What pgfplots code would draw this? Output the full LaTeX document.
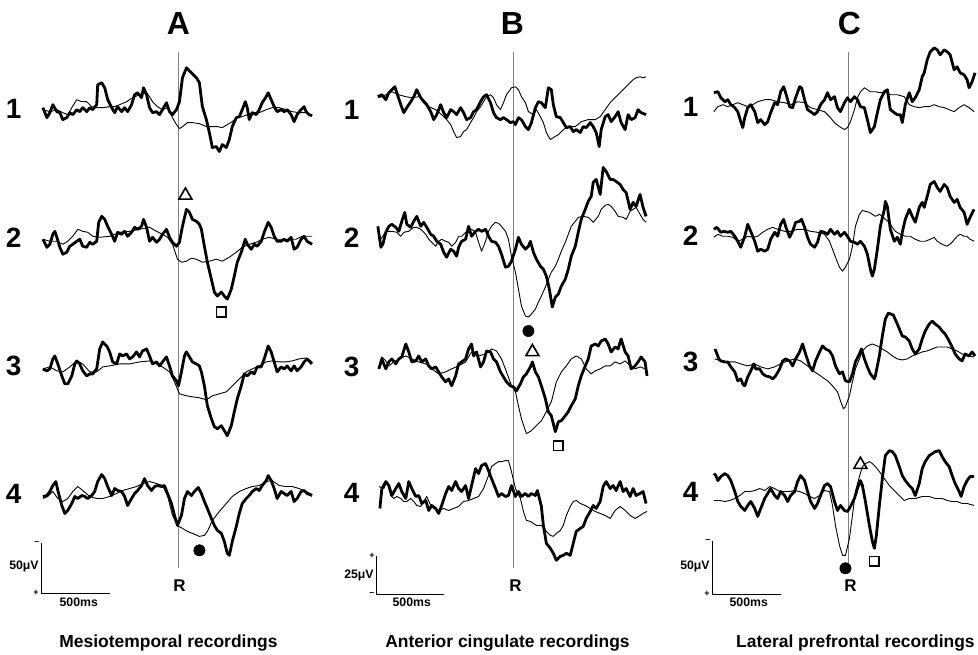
\documentclass[border=0pt]{standalone}
\usepackage{pgfplots}
\pgfplotsset{compat=1.18}
\usepackage{fontspec}
\setmainfont{Liberation Sans}
\tikzset{
  rowlab/.style={anchor=east, font=\fontsize{28}{28}\selectfont\bfseries},
  smlab/.style={font=\fontsize{12.3}{12.3}\selectfont\bfseries},
  sign/.style={font=\fontsize{9}{9}\selectfont\bfseries},
  ptitle/.style={font=\fontsize{32}{32}\selectfont\bfseries},
  rlab/.style={font=\fontsize{17}{17}\selectfont\bfseries},
  blab/.style={font=\fontsize{17.5}{17.5}\selectfont\bfseries},
}
\begin{document}
\begin{tikzpicture}
\begin{axis}[
  x=1pt, y=1pt, y dir=reverse,
  xmin=0, xmax=978, ymin=0, ymax=656,
  hide axis, clip=false, scale only axis,
  tk/.style={black, line width=2.8pt, line join=round, mark=none},
  tn/.style={black, line width=0.9pt, line join=round, mark=none},
  rl/.style={gray, line width=0.9pt, mark=none},
  sb/.style={black, line width=1.1pt, mark=none},
]
\addplot[draw=none] coordinates {(0,0) (978,656)};
% R lines
\addplot[rl] coordinates {(179,52) (179,570)};
\addplot[rl] coordinates {(515,52) (515,570)};
\addplot[rl] coordinates {(851,52) (851,565)};

% ---------- panel A ----------
% A1
\addplot[tn] coordinates {(43,110) (50,112) (57,110) (63,113) (68,115) (72,108) (77,100) (82,102) (87,102) (92,107) (97,108) (103,108) (110,107) (115,107) (120,105) (127,102) (133,98) (140,95) (147,93) (150,97) (153,102) (158,107) (163,110) (168,108) (173,118) (177,125) (180,129) (183,127) (188,123) (193,123) (200,124) (207,127) (213,127) (218,127) (223,128) (228,125) (233,122) (238,118) (243,117) (248,115) (253,113) (260,113) (267,110) (273,108) (280,108) (287,110) (293,112) (300,113) (307,113) (313,116)};
\addplot[tk] coordinates {(43,108) (47,118) (50,113) (53,105) (57,112) (60,113) (63,120) (67,118) (70,113) (73,115) (77,110) (80,112) (83,108) (87,112) (90,108) (93,110) (97,105) (98,85) (102,83) (105,88) (108,100) (112,108) (115,113) (118,107) (122,112) (125,108) (128,112) (132,105) (135,95) (138,93) (142,98) (144,88) (147,95) (150,108) (153,113) (157,112) (160,115) (163,110) (167,103) (170,112) (173,115) (177,110) (180,102) (183,78) (187,68) (192,73) (197,78) (200,83) (203,107) (207,120) (210,133) (213,148) (217,147) (220,152) (223,145) (227,148) (230,140) (233,127) (237,118) (240,117) (243,110) (246,102) (248,108) (250,120) (253,113) (257,115) (260,110) (263,103) (267,97) (269,93) (272,100) (275,107) (278,112) (282,110) (285,112) (288,110) (292,115) (295,122) (298,115) (302,110) (305,107) (307,112) (310,115) (313,116)};
% A2
\addplot[tn] coordinates {(43,240) (50,242) (57,242) (63,245) (68,242) (73,237) (78,230) (83,232) (88,233) (93,237) (100,238) (110,237) (120,233) (130,232) (140,230) (150,228) (157,232) (163,235) (168,238) (173,245) (178,260) (182,263) (187,262) (192,259) (197,260) (203,263) (210,262) (217,260) (223,262) (230,258) (237,253) (243,248) (250,245) (257,243) (263,240) (270,238) (277,240) (283,240) (290,240) (297,240) (303,237) (313,237)};
\addplot[tk] coordinates {(43,240) (47,248) (50,245) (53,235) (55,232) (57,238) (60,248) (63,255) (67,253) (70,247) (73,245) (77,242) (80,240) (83,247) (87,248) (90,243) (93,245) (97,242) (99,223) (102,217) (105,220) (108,227) (112,235) (115,242) (118,233) (122,235) (125,232) (128,237) (132,233) (135,228) (138,230) (142,227) (144,220) (147,228) (150,242) (153,238) (157,243) (160,240) (163,235) (167,230) (170,238) (173,243) (177,247) (180,243) (183,227) (187,210) (190,213) (193,220) (197,222) (200,225) (202,230) (205,247) (208,263) (212,280) (215,293) (218,297) (222,293) (225,297) (228,300) (232,290) (235,277) (238,263) (242,253) (246,240) (248,245) (252,250) (255,245) (258,247) (262,242) (265,233) (269,223) (272,228) (275,237) (278,242) (282,242) (285,240) (288,242) (292,238) (295,250) (298,248) (302,240) (305,237) (308,242) (313,245)};
% A3
\addplot[tn] coordinates {(43,370) (50,368) (57,372) (63,373) (70,368) (77,362) (83,365) (90,373) (97,373) (103,368) (110,367) (120,365) (130,365) (140,363) (150,362) (157,365) (163,368) (170,373) (175,383) (180,395) (187,397) (193,398) (200,399) (207,401) (213,397) (220,395) (227,393) (233,387) (240,380) (247,373) (253,370) (260,367) (267,363) (273,362) (280,363) (287,363) (293,362) (300,360) (307,359) (313,363)};
\addplot[tk] coordinates {(43,370) (47,372) (50,370) (53,360) (55,357) (58,365) (62,377) (65,385) (68,385) (72,377) (75,365) (77,362) (80,365) (83,372) (87,377) (90,375) (93,375) (97,370) (100,350) (103,343) (107,347) (110,353) (113,363) (117,365) (120,355) (123,357) (127,355) (130,360) (133,358) (137,353) (140,358) (143,352) (147,350) (150,357) (153,365) (157,363) (160,367) (163,363) (167,358) (170,367) (173,377) (177,382) (179,387) (182,373) (185,357) (187,353) (190,358) (193,363) (197,365) (200,367) (202,373) (205,387) (208,407) (212,420) (215,428) (218,430) (222,427) (225,432) (228,437) (232,427) (235,413) (238,400) (242,387) (245,375) (248,377) (252,373) (255,375) (258,368) (262,368) (265,360) (269,347) (272,353) (275,363) (278,373) (282,368) (285,370) (288,367) (292,372) (295,367) (298,372) (302,368) (305,363) (308,360) (313,365)};
% A4
\addplot[tn] coordinates {(43,500) (48,498) (53,493) (58,500) (63,503) (68,500) (73,493) (78,488) (83,492) (90,498) (97,500) (103,500) (110,498) (117,495) (123,492) (130,490) (137,488) (143,485) (150,483) (157,485) (163,487) (168,497) (173,517) (178,527) (183,530) (188,533) (193,535) (200,538) (205,537) (208,533) (213,522) (220,513) (227,505) (233,498) (240,493) (247,490) (253,488) (260,487) (267,483) (273,482) (280,487) (287,488) (293,488) (300,490) (307,493) (313,496)};
\addplot[tk] coordinates {(43,498) (47,497) (50,493) (53,487) (56,483) (58,492) (62,507) (65,515) (68,512) (72,505) (75,498) (78,500) (82,497) (85,498) (88,500) (92,497) (95,493) (98,483) (102,476) (105,480) (108,488) (112,497) (115,490) (118,492) (122,493) (125,498) (128,507) (132,500) (135,495) (138,492) (142,487) (145,480) (148,487) (152,492) (155,488) (158,487) (162,488) (165,487) (168,495) (172,505) (175,517) (178,527) (182,517) (185,500) (188,493) (192,497) (195,493) (199,489) (202,495) (205,503) (208,510) (212,520) (215,527) (218,532) (222,535) (225,543) (228,555) (230,557) (233,543) (237,528) (240,515) (243,505) (247,500) (250,497) (253,493) (257,490) (260,492) (263,487) (267,482) (269,477) (272,482) (275,490) (278,500) (282,493) (285,495) (288,497) (292,493) (295,503) (298,500) (302,493) (305,492) (308,495) (313,497)};

% ---------- panel B ----------
% B1
\addplot[tn] coordinates {(379,98) (383,97) (387,95) (393,92) (400,95) (407,97) (413,98) (420,97) (425,100) (430,107) (437,110) (443,115) (448,120) (452,125) (455,132) (458,138) (462,137) (465,132) (468,130) (472,123) (475,118) (478,112) (482,107) (485,102) (488,97) (492,95) (495,98) (498,105) (502,110) (505,103) (508,95) (513,88) (517,87) (520,90) (523,97) (527,103) (530,112) (535,115) (538,110) (542,117) (545,123) (548,133) (552,140) (555,138) (560,135) (565,130) (570,127) (577,127) (583,122) (590,120) (597,120) (602,117) (607,110) (612,103) (617,98) (622,93) (627,88) (632,83) (635,80) (638,78) (642,77) (645,78) (648,77)};
\addplot[tk] coordinates {(379,97) (383,95) (387,100) (390,93) (393,90) (396,87) (398,93) (402,105) (405,113) (408,108) (412,102) (415,97) (418,90) (422,98) (425,102) (428,105) (432,112) (435,120) (438,115) (442,105) (445,113) (448,118) (452,110) (455,112) (458,115) (462,108) (465,113) (468,120) (472,118) (475,112) (478,110) (482,102) (485,97) (488,95) (492,103) (495,113) (498,118) (502,120) (505,118) (508,120) (512,123) (515,122) (517,125) (520,118) (523,120) (527,127) (530,130) (533,123) (537,108) (540,102) (543,103) (547,108) (550,88) (553,90) (555,105) (558,117) (562,118) (565,123) (568,128) (572,127) (575,132) (578,130) (582,133) (585,127) (588,128) (592,123) (595,127) (598,133) (601,147) (603,130) (607,117) (610,115) (613,122) (617,117) (620,112) (623,123) (627,130) (630,115) (633,120) (637,118) (640,110) (643,113) (648,115)};
% B2
\addplot[tn] coordinates {(382,240) (385,235) (388,232) (393,232) (398,233) (402,237) (405,233) (410,232) (415,228) (418,228) (422,230) (427,235) (430,240) (433,243) (437,247) (440,242) (443,240) (447,242) (450,243) (453,247) (457,243) (460,237) (463,237) (467,233) (470,232) (473,230) (477,233) (480,243) (483,252) (487,242) (490,232) (493,227) (497,223) (500,224) (503,227) (507,232) (510,240) (513,257) (517,273) (520,290) (523,307) (527,317) (530,318) (533,315) (537,310) (540,303) (543,297) (547,288) (550,280) (553,273) (557,267) (560,260) (563,252) (567,243) (570,235) (573,227) (577,222) (580,218) (585,217) (590,218) (595,223) (600,217) (603,210) (607,206) (610,205) (613,207) (617,212) (620,217) (625,218) (628,220) (632,212) (635,210) (638,208) (642,215) (645,220) (648,223)};
\addplot[tk] coordinates {(379,227) (382,248) (384,245) (387,233) (390,227) (393,225) (397,228) (400,232) (403,222) (406,213) (408,225) (412,228) (415,222) (418,217) (422,227) (425,223) (428,228) (432,235) (435,237) (438,242) (442,245) (445,253) (448,258) (452,250) (455,252) (458,257) (460,248) (463,242) (467,240) (470,227) (473,237) (477,232) (480,230) (483,232) (487,230) (490,237) (493,242) (497,243) (500,247) (503,255) (507,268) (510,267) (513,262) (517,250) (520,238) (523,245) (527,250) (530,247) (532,242) (535,253) (538,260) (542,267) (545,270) (548,277) (551,290) (554,308) (557,298) (560,295) (563,287) (567,280) (570,270) (573,257) (577,247) (580,233) (583,220) (587,210) (590,202) (593,197) (595,183) (598,180) (602,195) (605,168) (608,172) (612,180) (615,180) (618,182) (622,185) (625,190) (628,193) (632,210) (635,203) (638,207) (642,195) (645,208) (648,217)};
% B3
\addplot[tn] coordinates {(380,370) (383,358) (387,362) (390,367) (395,363) (400,360) (407,357) (413,360) (420,363) (427,365) (433,370) (440,375) (447,373) (453,370) (460,367) (467,363) (473,353) (480,357) (487,355) (493,350) (498,352) (503,360) (508,373) (513,387) (517,393) (520,407) (523,420) (528,435) (533,432) (538,427) (543,422) (548,413) (553,403) (558,383) (563,373) (568,367) (573,360) (578,357) (583,360) (588,370) (593,375) (597,372) (602,370) (607,367) (612,367) (617,363) (622,365) (627,362) (632,367) (637,370) (642,368) (647,370)};
\addplot[tk] coordinates {(380,370) (383,360) (387,370) (390,363) (393,360) (397,365) (400,360) (403,358) (407,345) (410,353) (413,363) (417,362) (420,357) (423,363) (427,360) (430,367) (433,370) (437,368) (440,373) (443,378) (447,383) (450,380) (453,387) (457,377) (460,365) (463,363) (467,360) (470,350) (473,345) (475,357) (478,353) (482,368) (485,363) (488,352) (492,353) (495,360) (498,363) (502,373) (505,378) (508,383) (512,387) (515,388) (518,392) (522,385) (525,378) (528,375) (532,368) (534,363) (537,373) (540,378) (543,387) (547,400) (550,413) (553,417) (557,433) (560,423) (563,422) (567,417) (570,413) (573,407) (577,400) (580,387) (583,377) (587,367) (590,360) (593,347) (597,345) (600,347) (603,342) (607,340) (610,345) (613,353) (617,348) (620,350) (623,340) (627,353) (630,357) (633,370) (637,367) (640,363) (643,358) (647,363) (649,377)};
% B4
\addplot[tn] coordinates {(380,488) (385,490) (388,483) (392,497) (395,500) (398,498) (402,500) (405,503) (408,503) (412,500) (415,503) (418,507) (422,508) (425,503) (428,498) (432,507) (435,510) (440,512) (445,510) (450,512) (455,510) (460,508) (465,503) (470,502) (475,500) (480,498) (485,490) (490,477) (493,468) (497,465) (500,463) (503,463) (507,462) (510,462) (513,473) (517,490) (522,500) (525,513) (528,522) (532,523) (535,525) (538,527) (542,527) (545,528) (548,533) (552,537) (555,538) (558,535) (562,532) (565,527) (568,517) (572,508) (575,503) (578,502) (582,505) (587,507) (592,510) (597,513) (602,515) (607,517) (612,520) (617,512) (622,508) (627,512) (632,517) (637,520) (642,517) (645,515) (649,513)};
\addplot[tk] coordinates {(381,510) (383,490) (387,483) (390,487) (393,497) (397,490) (400,485) (403,493) (407,500) (410,483) (413,490) (417,498) (420,497) (423,505) (427,502) (430,512) (433,507) (437,510) (440,515) (443,507) (447,495) (450,488) (453,492) (457,483) (460,490) (463,493) (467,487) (470,500) (473,487) (477,470) (480,475) (483,467) (487,465) (490,472) (493,480) (497,490) (500,498) (503,495) (507,498) (510,497) (513,487) (517,498) (520,493) (523,498) (527,495) (530,498) (533,495) (537,497) (539,492) (543,508) (545,527) (548,545) (552,550) (555,555) (558,562) (562,558) (565,557) (568,555) (572,557) (575,545) (578,533) (582,530) (585,528) (588,520) (592,513) (595,507) (598,510) (602,503) (605,488) (608,483) (612,490) (615,487) (618,492) (622,483) (625,493) (628,490) (632,498) (635,490) (638,497) (642,495) (645,493) (648,505)};

% ---------- panel C ----------
% C1
\addplot[tn] coordinates {(716,112) (720,107) (725,105) (730,107) (735,105) (740,103) (745,105) (750,107) (755,105) (760,102) (767,100) (773,100) (780,102) (787,103) (793,105) (800,102) (807,103) (813,108) (820,110) (827,112) (832,117) (837,123) (842,127) (847,130) (850,128) (853,122) (857,110) (860,98) (863,92) (867,88) (870,90) (873,92) (878,92) (883,93) (888,92) (893,95) (900,95) (907,97) (912,105) (917,107) (922,108) (927,107) (932,107) (937,105) (942,107) (947,108) (952,110) (957,112) (962,108) (967,105) (972,108) (977,112)};
\addplot[tk] coordinates {(716,93) (720,92) (723,98) (727,102) (730,100) (733,105) (737,108) (740,112) (743,122) (745,128) (747,118) (750,108) (753,105) (757,112) (760,123) (763,120) (767,125) (770,122) (773,113) (777,103) (780,105) (783,92) (786,87) (788,93) (792,107) (795,108) (798,98) (802,87) (804,88) (807,100) (810,110) (813,112) (817,115) (820,112) (823,105) (827,100) (830,93) (833,100) (837,97) (840,108) (843,112) (847,103) (850,98) (853,102) (857,97) (860,100) (863,107) (867,108) (870,120) (873,133) (877,127) (880,113) (883,100) (887,92) (890,90) (893,110) (897,113) (900,115) (903,115) (905,123) (908,105) (912,93) (915,102) (918,98) (922,90) (925,77) (927,73) (930,60) (933,52) (937,48) (940,50) (943,55) (947,50) (950,52) (953,55) (957,70) (960,67) (963,73) (967,75) (970,80) (972,88) (975,82) (978,73)};
% C2
\addplot[tn] coordinates {(716,238) (720,235) (725,237) (730,237) (735,238) (740,242) (745,240) (750,237) (755,238) (760,237) (765,233) (770,230) (775,228) (780,230) (787,232) (793,232) (800,230) (807,230) (813,232) (820,233) (827,235) (832,242) (835,250) (838,258) (842,268) (845,272) (848,268) (852,260) (855,247) (858,227) (862,215) (865,211) (868,212) (872,213) (875,215) (878,217) (882,215) (885,217) (888,220) (892,223) (895,228) (898,232) (903,235) (908,237) (913,237) (918,240) (923,242) (928,242) (933,240) (937,238) (940,242) (945,245) (950,247) (955,243) (960,237) (963,235) (967,237) (970,237) (973,240) (977,242)};
\addplot[tk] coordinates {(716,230) (719,228) (723,233) (726,232) (730,233) (733,232) (737,237) (740,242) (743,248) (747,237) (750,225) (753,232) (757,242) (760,252) (763,250) (767,252) (770,250) (773,240) (777,233) (780,237) (783,225) (786,220) (788,227) (792,238) (795,232) (798,223) (802,222) (804,220) (807,228) (810,238) (813,245) (817,248) (820,243) (823,232) (827,233) (830,235) (833,230) (837,235) (840,232) (843,237) (847,233) (850,237) (853,242) (857,243) (860,245) (863,242) (867,247) (870,255) (873,270) (875,277) (877,270) (880,250) (883,227) (887,210) (888,202) (890,207) (893,230) (897,242) (900,238) (903,245) (905,233) (908,220) (912,210) (915,217) (918,223) (922,208) (925,203) (927,208) (930,197) (933,185) (937,182) (940,188) (943,192) (947,185) (950,188) (953,197) (957,203) (960,200) (963,208) (967,213) (970,225) (973,218) (977,210)};
% C3
\addplot[tn] coordinates {(717,360) (723,362) (730,363) (737,363) (743,365) (750,367) (757,365) (763,368) (770,370) (777,368) (783,365) (790,362) (797,360) (803,362) (810,367) (817,373) (823,377) (830,382) (835,387) (840,393) (843,402) (846,410) (848,408) (852,397) (855,383) (858,370) (862,360) (865,352) (870,347) (875,345) (880,347) (885,350) (890,353) (895,357) (900,360) (905,361) (910,360) (915,357) (920,355) (925,353) (930,352) (935,350) (940,348) (945,348) (950,348) (955,350) (960,352) (965,355) (970,357) (977,358)};
\addplot[tk] coordinates {(717,350) (718,352) (721,360) (723,362) (727,363) (730,363) (733,368) (737,373) (740,382) (743,380) (745,385) (747,387) (750,378) (753,372) (756,365) (758,370) (762,370) (765,375) (768,377) (772,378) (775,380) (778,377) (782,370) (785,362) (788,360) (792,362) (795,367) (798,360) (802,353) (805,345) (808,355) (812,367) (815,372) (818,362) (822,353) (825,347) (828,350) (832,352) (835,357) (838,367) (842,375) (845,373) (848,382) (852,383) (855,375) (858,363) (862,355) (864,350) (867,360) (870,368) (873,375) (877,380) (878,377) (882,357) (885,337) (888,320) (891,314) (896,316) (900,325) (905,337) (908,338) (912,342) (915,350) (918,355) (922,350) (925,340) (928,332) (932,325) (935,322) (938,325) (942,328) (945,332) (948,335) (952,342) (955,348) (958,355) (962,360) (965,362) (968,355) (972,357) (975,353) (978,357)};
% C4
\addplot[tn] coordinates {(716,502) (722,502) (727,503) (732,502) (737,500) (742,497) (747,493) (752,493) (757,492) (762,490) (767,492) (772,488) (777,490) (782,493) (787,493) (792,493) (797,492) (802,493) (807,495) (812,498) (817,500) (822,497) (827,492) (832,493) (835,507) (838,527) (842,547) (845,557) (848,557) (852,540) (855,517) (858,493) (862,478) (865,468) (868,465) (872,463) (875,465) (878,468) (882,473) (887,480) (892,487) (897,492) (902,497) (907,502) (912,500) (918,500) (925,498) (932,498) (938,500) (945,500) (950,502) (955,503) (960,503) (965,505) (970,505) (977,507)};
\addplot[tk] coordinates {(716,475) (718,477) (720,482) (723,478) (727,475) (730,477) (733,482) (737,493) (740,503) (743,508) (747,512) (750,507) (753,503) (757,510) (760,518) (763,510) (767,500) (770,495) (773,490) (777,497) (780,500) (783,493) (787,497) (790,503) (793,497) (797,493) (800,483) (803,477) (807,482) (810,493) (813,503) (817,510) (820,505) (823,497) (827,487) (830,485) (833,488) (837,503) (840,512) (843,507) (847,512) (850,513) (853,508) (857,500) (860,490) (863,482) (865,487) (868,503) (872,527) (875,543) (877,550) (879,537) (882,507) (885,480) (888,457) (892,452) (895,453) (898,457) (902,468) (905,477) (908,482) (912,487) (915,490) (918,497) (922,485) (925,470) (928,463) (932,457) (935,455) (938,453) (942,452) (945,458) (948,463) (952,468) (955,477) (958,485) (962,493) (964,498) (967,488) (970,482) (973,478) (977,478)};

% markers
\addplot[only marks, mark=triangle, mark size=7.5pt, mark options={line width=1.6pt, black}] coordinates {(186,196) (534,353) (863,466)};
\addplot[only marks, mark=square, mark size=4.9pt, mark options={line width=1.6pt, black}] coordinates {(222,313) (560,447) (877,563)};
\addplot[only marks, mark=*, mark size=5.7pt, mark options={black, fill=black}] coordinates {(200,552) (530,332) (848,570)};

% scale bars
\addplot[sb] coordinates {(42,545) (42,595) (110,595)};
\addplot[sb] coordinates {(378,558) (378,596) (445,596)};
\addplot[sb] coordinates {(715,543) (715,596) (783,596)};

% texts
\node[ptitle] at (axis cs:179,24) {A};
\node[ptitle] at (axis cs:514,24) {B};
\node[ptitle] at (axis cs:852,24) {C};
\node[rowlab] at (axis cs:25,109) {1};
\node[rowlab] at (axis cs:25,238) {2};
\node[rowlab] at (axis cs:25,367) {3};
\node[rowlab] at (axis cs:25,495) {4};
\node[rowlab] at (axis cs:364,110) {1};
\node[rowlab] at (axis cs:364,238) {2};
\node[rowlab] at (axis cs:364,368) {3};
\node[rowlab] at (axis cs:364,494) {4};
\node[rowlab] at (axis cs:704,107) {1};
\node[rowlab] at (axis cs:704,236) {2};
\node[rowlab] at (axis cs:704,363) {3};
\node[rowlab] at (axis cs:704,493) {4};
\node[rlab] at (axis cs:180,587) {R};
\node[rlab] at (axis cs:517,587) {R};
\node[rlab] at (axis cs:853,587) {R};
\node[smlab] at (axis cs:24,568) {50μV};
\node[smlab] at (axis cs:360,577) {25μV};
\node[smlab] at (axis cs:697,568) {50μV};
\node[smlab] at (axis cs:79,604) {500ms};
\node[smlab] at (axis cs:413,604) {500ms};
\node[smlab] at (axis cs:751,604) {500ms};
\node[sign] at (axis cs:37,545) {–};
\node[sign] at (axis cs:36,595) {+};
\node[sign] at (axis cs:373,558) {+};
\node[sign] at (axis cs:373,596) {–};
\node[sign] at (axis cs:710,543) {–};
\node[sign] at (axis cs:709,596) {+};
\node[blab] at (axis cs:169,645) {Mesiotemporal recordings};
\node[blab] at (axis cs:509,645) {Anterior cingulate recordings};
\node[blab] at (axis cs:858,645) {Lateral prefrontal recordings};
\end{axis}
\end{tikzpicture}
\end{document}
